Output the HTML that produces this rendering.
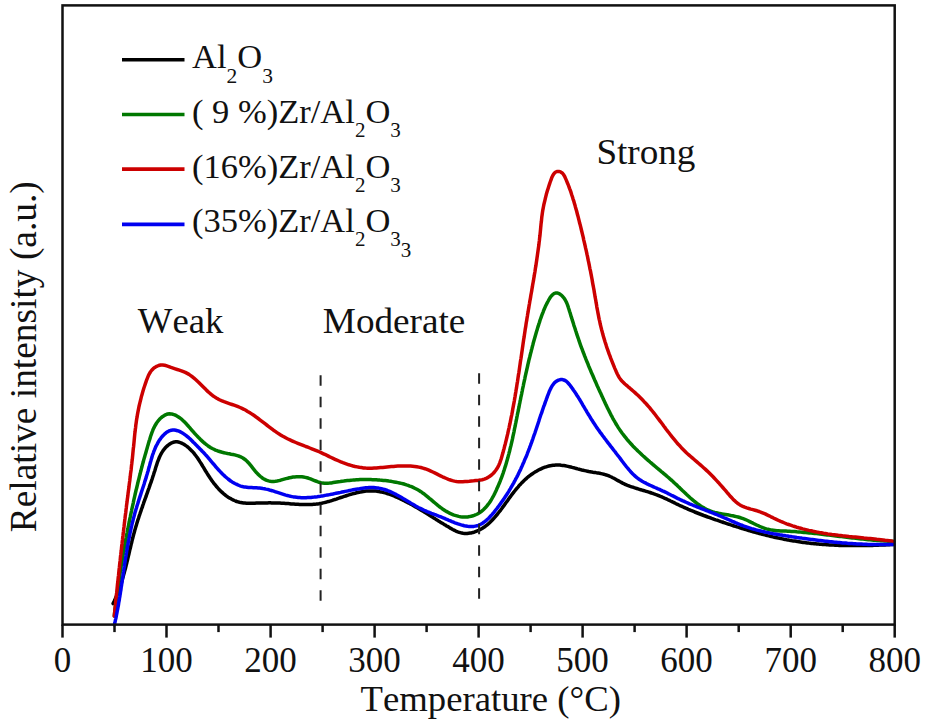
<!DOCTYPE html>
<html><head><meta charset="utf-8"><style>
html,body{margin:0;padding:0;background:#fff;}
svg{display:block;}
text{font-family:"Liberation Serif",serif;fill:#111;}
</style></head><body>
<svg width="925" height="722" viewBox="0 0 925 722">
<rect width="925" height="722" fill="#fff"/>
<g fill="none" stroke-linejoin="round" stroke-linecap="round" stroke-width="3.5">
<path stroke="#000" d="M113.1 603.6L113.7 602.3L114.3 601.1L114.9 599.8L115.4 598.5L116.0 597.3L116.5 596.0L117.1 594.7L117.6 593.4L118.1 592.1L118.6 590.8L119.0 589.5L119.5 588.2L120.0 586.9L120.4 585.6L120.8 584.2L121.3 582.9L121.7 581.6L122.1 580.3L122.5 578.9L122.9 577.6L123.3 576.2L123.6 574.9L124.0 573.6L124.4 572.2L124.7 570.9L125.1 569.5L125.5 568.2L125.8 566.8L126.1 565.5L126.5 564.1L126.8 562.8L127.1 561.4L127.5 560.0L127.8 558.7L128.1 557.3L128.4 556.0L128.8 554.6L129.1 553.2L129.4 551.9L129.7 550.5L130.0 549.2L130.4 547.8L130.7 546.4L131.0 545.1L131.3 543.7L131.7 542.4L132.0 541.0L132.3 539.7L132.7 538.3L133.0 537.0L133.4 535.6L133.7 534.3L134.1 532.9L134.5 531.6L134.8 530.2L135.2 528.9L135.6 527.6L136.0 526.2L136.4 524.9L136.8 523.6L137.2 522.2L137.6 520.9L138.0 519.6L138.5 518.3L138.9 517.0L139.3 515.6L139.8 514.3L140.2 513.0L140.7 511.7L141.1 510.4L141.5 509.1L142.0 507.8L142.5 506.5L142.9 505.1L143.4 503.8L143.8 502.5L144.3 501.2L144.8 499.9L145.2 498.6L145.7 497.3L146.2 496.0L146.6 494.7L147.1 493.3L147.6 492.0L148.0 490.7L148.5 489.4L149.0 488.1L149.4 486.8L149.9 485.4L150.3 484.1L150.8 482.8L151.3 481.5L151.7 480.2L152.2 478.8L152.6 477.5L153.0 476.2L153.5 474.8L153.9 473.5L154.3 472.1L154.8 470.8L155.2 469.4L155.6 468.1L156.0 466.7L156.5 465.4L156.9 464.1L157.3 462.7L157.8 461.4L158.3 460.1L158.8 458.8L159.3 457.5L159.9 456.2L160.5 455.0L161.1 453.8L161.8 452.6L162.6 451.4L163.3 450.3L164.2 449.2L165.1 448.1L166.1 447.1L167.1 446.1L168.2 445.1L169.4 444.3L170.6 443.5L171.8 442.8L173.1 442.3L174.4 442.0L175.7 441.8L177.0 441.8L178.3 442.0L179.6 442.4L180.9 442.8L182.2 443.4L183.4 444.1L184.6 444.8L185.8 445.6L187.0 446.4L188.1 447.3L189.1 448.2L190.1 449.2L191.1 450.2L192.1 451.2L193.0 452.2L194.0 453.3L194.8 454.4L195.7 455.5L196.6 456.7L197.4 457.8L198.2 459.0L199.0 460.2L199.7 461.4L200.5 462.6L201.3 463.8L202.0 465.0L202.7 466.2L203.5 467.4L204.2 468.6L204.9 469.8L205.6 471.0L206.4 472.2L207.1 473.4L207.8 474.5L208.6 475.7L209.3 476.8L210.1 478.0L210.9 479.1L211.6 480.2L212.4 481.4L213.3 482.5L214.1 483.6L215.0 484.7L215.8 485.7L216.7 486.8L217.7 487.9L218.6 488.9L219.6 489.9L220.6 490.9L221.6 491.9L222.7 492.9L223.7 493.8L224.8 494.7L225.9 495.6L227.0 496.4L228.2 497.2L229.4 497.9L230.6 498.6L231.8 499.3L233.0 499.9L234.3 500.5L235.5 501.0L236.8 501.5L238.1 501.9L239.5 502.3L240.8 502.6L242.2 502.8L243.6 503.0L245.0 503.1L246.4 503.2L247.8 503.3L249.2 503.3L250.6 503.3L252.1 503.3L253.5 503.2L254.9 503.2L256.3 503.1L257.7 503.1L259.2 503.0L260.6 503.0L261.9 502.9L263.3 502.9L264.7 502.9L266.1 502.9L267.5 502.9L268.9 502.8L270.2 502.8L271.6 502.9L273.0 502.9L274.4 502.9L275.7 502.9L277.1 503.0L278.5 503.0L279.9 503.1L281.3 503.2L282.7 503.3L284.1 503.3L285.5 503.4L286.9 503.5L288.3 503.6L289.7 503.7L291.1 503.9L292.5 504.0L293.9 504.1L295.3 504.2L296.7 504.2L298.1 504.3L299.6 504.4L301.0 504.5L302.4 504.5L303.8 504.6L305.2 504.6L306.6 504.6L308.0 504.6L309.4 504.5L310.8 504.5L312.2 504.4L313.5 504.3L314.9 504.2L316.3 504.1L317.6 503.9L319.0 503.7L320.3 503.4L321.7 503.2L323.0 502.9L324.4 502.6L325.7 502.3L327.0 501.9L328.4 501.5L329.7 501.2L331.0 500.8L332.3 500.4L333.6 499.9L335.0 499.5L336.3 499.1L337.6 498.6L338.9 498.2L340.2 497.7L341.6 497.3L342.9 496.8L344.2 496.4L345.6 496.0L346.9 495.5L348.3 495.1L349.6 494.7L351.0 494.3L352.4 493.9L353.7 493.5L355.1 493.2L356.5 492.8L357.8 492.5L359.2 492.2L360.6 491.9L362.0 491.7L363.4 491.5L364.8 491.3L366.1 491.1L367.5 491.0L368.9 490.9L370.3 490.9L371.7 490.9L373.0 490.9L374.4 491.0L375.8 491.1L377.1 491.2L378.5 491.4L379.9 491.7L381.2 491.9L382.6 492.2L383.9 492.6L385.2 492.9L386.6 493.3L387.9 493.8L389.2 494.2L390.6 494.7L391.9 495.2L393.2 495.7L394.5 496.2L395.8 496.8L397.1 497.3L398.3 497.9L399.6 498.5L400.9 499.1L402.1 499.7L403.4 500.3L404.6 500.9L405.9 501.6L407.1 502.2L408.3 502.9L409.6 503.5L410.8 504.2L412.0 504.8L413.2 505.5L414.4 506.2L415.6 506.9L416.8 507.6L418.0 508.3L419.2 509.0L420.4 509.7L421.6 510.4L422.7 511.1L423.9 511.8L425.1 512.6L426.3 513.3L427.5 514.0L428.7 514.7L429.8 515.5L431.0 516.2L432.2 516.9L433.4 517.7L434.6 518.4L435.7 519.2L436.9 519.9L438.1 520.7L439.3 521.4L440.5 522.2L441.7 522.9L442.9 523.6L444.1 524.4L445.3 525.1L446.6 525.9L447.8 526.6L449.0 527.3L450.2 528.1L451.5 528.8L452.7 529.5L454.0 530.1L455.3 530.8L456.5 531.4L457.8 531.9L459.1 532.3L460.4 532.7L461.8 533.1L463.1 533.3L464.5 533.4L465.9 533.5L467.2 533.5L468.6 533.3L470.0 533.1L471.4 532.9L472.8 532.5L474.1 532.2L475.4 531.7L476.7 531.2L478.0 530.7L479.2 530.1L480.4 529.4L481.6 528.8L482.8 528.0L483.9 527.3L485.0 526.5L486.1 525.7L487.2 524.8L488.3 523.9L489.3 523.0L490.3 522.0L491.3 521.0L492.3 520.0L493.2 519.0L494.2 518.0L495.1 516.9L496.0 515.8L497.0 514.7L497.8 513.6L498.7 512.5L499.6 511.4L500.5 510.3L501.3 509.1L502.2 508.0L503.0 506.8L503.9 505.7L504.7 504.5L505.5 503.4L506.3 502.2L507.2 501.1L508.0 500.0L508.8 498.8L509.6 497.7L510.5 496.6L511.3 495.4L512.1 494.3L513.0 493.2L513.8 492.1L514.7 491.0L515.6 489.9L516.4 488.9L517.3 487.8L518.2 486.8L519.1 485.7L520.0 484.7L521.0 483.7L521.9 482.7L522.9 481.7L523.9 480.7L524.9 479.8L525.9 478.9L526.9 477.9L528.0 477.0L529.1 476.2L530.2 475.3L531.3 474.5L532.5 473.7L533.7 472.9L534.9 472.1L536.1 471.4L537.3 470.7L538.5 470.0L539.8 469.4L541.1 468.8L542.4 468.2L543.7 467.7L545.0 467.2L546.3 466.8L547.6 466.4L548.9 466.0L550.3 465.7L551.6 465.5L553.0 465.3L554.3 465.2L555.7 465.1L557.1 465.0L558.4 465.1L559.8 465.1L561.2 465.3L562.5 465.4L563.9 465.6L565.3 465.8L566.7 466.1L568.0 466.4L569.4 466.7L570.8 467.0L572.2 467.4L573.6 467.7L574.9 468.1L576.3 468.5L577.7 468.9L579.1 469.2L580.5 469.6L581.8 470.0L583.2 470.3L584.6 470.6L586.0 470.9L587.4 471.2L588.8 471.5L590.1 471.7L591.5 471.9L592.9 472.2L594.3 472.4L595.6 472.6L597.0 472.9L598.3 473.1L599.7 473.3L601.0 473.6L602.4 473.9L603.7 474.2L605.0 474.6L606.3 475.0L607.6 475.4L608.9 475.9L610.2 476.5L611.4 477.0L612.7 477.7L613.9 478.3L615.2 479.0L616.4 479.7L617.6 480.4L618.9 481.1L620.1 481.8L621.3 482.4L622.6 483.1L623.8 483.7L625.1 484.3L626.4 484.9L627.6 485.4L628.9 485.9L630.2 486.4L631.5 486.8L632.8 487.2L634.2 487.7L635.5 488.1L636.8 488.5L638.1 488.9L639.4 489.3L640.8 489.7L642.1 490.1L643.4 490.5L644.8 490.9L646.1 491.3L647.4 491.7L648.8 492.1L650.1 492.5L651.4 493.0L652.7 493.4L654.0 493.9L655.4 494.4L656.7 494.8L658.0 495.3L659.3 495.9L660.5 496.4L661.8 496.9L663.1 497.5L664.4 498.1L665.6 498.6L666.9 499.2L668.1 499.8L669.4 500.4L670.6 501.0L671.9 501.6L673.1 502.2L674.4 502.8L675.7 503.5L676.9 504.1L678.2 504.7L679.4 505.3L680.7 505.9L681.9 506.4L683.2 507.0L684.5 507.6L685.8 508.2L687.0 508.7L688.3 509.3L689.6 509.8L690.9 510.4L692.2 510.9L693.5 511.4L694.7 512.0L696.0 512.5L697.3 513.0L698.6 513.5L699.9 514.0L701.2 514.5L702.5 515.0L703.8 515.5L705.2 516.0L706.5 516.5L707.8 517.0L709.1 517.4L710.4 517.9L711.7 518.4L713.0 518.8L714.3 519.3L715.7 519.8L717.0 520.2L718.3 520.7L719.6 521.1L720.9 521.6L722.3 522.0L723.6 522.5L724.9 522.9L726.2 523.4L727.5 523.8L728.9 524.2L730.2 524.7L731.5 525.1L732.8 525.5L734.1 526.0L735.5 526.4L736.8 526.8L738.1 527.2L739.4 527.6L740.7 528.1L742.1 528.5L743.4 528.9L744.7 529.3L746.0 529.7L747.4 530.1L748.7 530.5L750.0 530.9L751.4 531.3L752.7 531.7L754.0 532.0L755.4 532.4L756.7 532.8L758.0 533.1L759.4 533.5L760.7 533.9L762.1 534.2L763.4 534.6L764.8 534.9L766.1 535.2L767.5 535.6L768.8 535.9L770.2 536.2L771.5 536.5L772.9 536.9L774.3 537.2L775.6 537.5L777.0 537.8L778.4 538.1L779.7 538.3L781.1 538.6L782.5 538.9L783.9 539.2L785.2 539.4L786.6 539.7L788.0 539.9L789.4 540.2L790.7 540.4L792.1 540.7L793.5 540.9L794.9 541.1L796.3 541.3L797.6 541.6L799.0 541.8L800.4 542.0L801.8 542.2L803.2 542.4L804.6 542.5L805.9 542.7L807.3 542.9L808.7 543.1L810.1 543.2L811.5 543.4L812.9 543.5L814.3 543.7L815.6 543.8L817.0 544.0L818.4 544.1L819.8 544.2L821.2 544.3L822.6 544.4L824.0 544.5L825.3 544.6L826.7 544.7L828.1 544.8L829.5 544.9L830.9 545.0L832.3 545.1L833.7 545.1L835.0 545.2L836.4 545.3L837.8 545.3L839.2 545.4L840.6 545.4L842.0 545.4L843.4 545.5L844.7 545.5L846.1 545.5L847.5 545.6L848.9 545.6L850.3 545.6L851.7 545.6L853.1 545.6L854.5 545.6L855.8 545.6L857.2 545.6L858.6 545.6L860.0 545.6L861.4 545.6L862.8 545.6L864.2 545.5L865.6 545.5L867.0 545.5L868.4 545.5L869.7 545.4L871.1 545.4L872.5 545.4L873.9 545.3L875.3 545.3L876.7 545.2L878.1 545.2L879.5 545.1L880.9 545.1L882.3 545.0L883.7 545.0L885.1 544.9L886.5 544.8L887.9 544.8L889.3 544.7L890.7 544.6L892.1 544.6L893.5 544.5"/>
<path stroke="#007800" d="M114.3 616.0L114.5 614.2L114.7 612.4L114.9 610.6L115.1 608.9L115.4 607.1L115.6 605.3L115.8 603.5L116.0 601.7L116.3 599.9L116.5 598.1L116.7 596.4L117.0 594.6L117.2 592.8L117.5 591.0L117.7 589.2L118.0 587.4L118.2 585.7L118.5 583.9L118.7 582.1L119.0 580.3L119.3 578.5L119.5 576.7L119.8 574.9L120.1 573.2L120.4 571.4L120.6 569.6L120.9 567.8L121.2 566.0L121.5 564.3L121.8 562.5L122.1 560.7L122.4 558.9L122.7 557.1L123.0 555.4L123.3 553.6L123.6 551.8L123.9 550.0L124.2 548.2L124.5 546.5L124.9 544.7L125.2 542.9L125.5 541.1L125.8 539.4L126.2 537.6L126.5 535.8L126.8 534.1L127.2 532.3L127.5 530.5L127.9 528.7L128.2 527.0L128.6 525.2L128.9 523.4L129.3 521.7L129.6 519.9L130.0 518.1L130.4 516.4L130.7 514.6L131.1 512.9L131.5 511.1L131.8 509.3L132.2 507.6L132.6 505.8L133.0 504.1L133.4 502.3L133.7 500.6L134.1 498.8L134.5 497.1L134.9 495.3L135.3 493.5L135.7 491.8L136.1 490.0L136.6 488.3L137.0 486.5L137.4 484.8L137.8 483.0L138.2 481.3L138.7 479.6L139.1 477.8L139.5 476.1L140.0 474.3L140.4 472.6L140.9 470.8L141.3 469.1L141.8 467.3L142.2 465.6L142.7 463.8L143.2 462.1L143.6 460.4L144.1 458.6L144.6 456.9L145.1 455.1L145.6 453.4L146.1 451.7L146.6 449.9L147.1 448.2L147.6 446.4L148.1 444.7L148.6 442.9L149.1 441.2L149.7 439.5L150.2 437.7L150.7 436.0L151.3 434.3L151.9 432.6L152.6 430.9L153.2 429.2L154.0 427.6L154.8 426.0L155.7 424.5L156.6 423.0L157.7 421.5L158.8 420.1L160.0 418.8L161.4 417.5L162.8 416.4L164.4 415.4L166.0 414.6L167.6 414.0L169.4 413.8L171.2 413.9L172.9 414.3L174.7 414.9L176.4 415.7L178.1 416.7L179.6 417.7L181.1 418.8L182.4 420.0L183.7 421.2L185.0 422.4L186.2 423.7L187.3 425.0L188.5 426.3L189.7 427.7L190.9 429.1L192.1 430.5L193.3 431.8L194.5 433.2L195.8 434.6L197.0 435.9L198.3 437.3L199.6 438.6L200.9 439.9L202.2 441.1L203.6 442.4L205.0 443.5L206.4 444.7L207.8 445.7L209.3 446.7L210.8 447.7L212.3 448.5L213.9 449.3L215.5 450.1L217.1 450.7L218.7 451.3L220.4 451.8L222.2 452.3L223.9 452.7L225.7 453.1L227.5 453.5L229.3 453.8L231.1 454.2L232.9 454.5L234.7 454.9L236.4 455.4L238.2 455.9L239.8 456.5L241.4 457.2L242.9 458.0L244.3 459.0L245.7 460.0L247.0 461.2L248.2 462.5L249.4 463.8L250.5 465.2L251.7 466.7L252.8 468.1L254.0 469.6L255.2 471.1L256.4 472.5L257.7 473.9L259.1 475.2L260.5 476.5L262.0 477.7L263.5 478.7L265.2 479.6L266.8 480.4L268.5 480.9L270.2 481.3L271.9 481.5L273.7 481.5L275.4 481.3L277.1 481.0L278.9 480.6L280.6 480.2L282.4 479.6L284.2 479.1L285.9 478.6L287.7 478.2L289.4 477.7L291.2 477.4L293.0 477.1L294.7 476.9L296.5 476.8L298.3 476.7L300.0 476.7L301.8 476.8L303.5 477.0L305.3 477.4L307.0 477.8L308.7 478.3L310.5 478.9L312.2 479.6L313.9 480.3L315.7 481.0L317.4 481.7L319.1 482.3L320.9 482.8L322.6 483.1L324.4 483.3L326.1 483.3L327.9 483.2L329.6 483.1L331.4 482.9L333.2 482.6L334.9 482.3L336.7 482.0L338.5 481.7L340.3 481.5L342.1 481.2L343.8 481.0L345.6 480.7L347.4 480.5L349.2 480.4L351.0 480.2L352.8 480.1L354.6 479.9L356.4 479.8L358.2 479.7L360.0 479.6L361.8 479.6L363.6 479.6L365.4 479.5L367.2 479.5L369.0 479.6L370.8 479.6L372.6 479.7L374.4 479.7L376.2 479.8L378.0 479.9L379.8 480.1L381.6 480.2L383.5 480.4L385.3 480.6L387.1 480.8L388.9 481.1L390.7 481.3L392.4 481.6L394.2 481.9L396.0 482.2L397.8 482.6L399.5 483.0L401.3 483.4L403.0 483.8L404.8 484.3L406.5 484.9L408.1 485.4L409.8 486.1L411.5 486.7L413.1 487.4L414.7 488.2L416.3 489.0L417.8 489.8L419.4 490.7L420.9 491.7L422.3 492.7L423.8 493.7L425.2 494.8L426.6 496.0L428.0 497.1L429.4 498.3L430.8 499.4L432.2 500.6L433.6 501.8L435.0 503.0L436.4 504.2L437.8 505.3L439.2 506.5L440.7 507.6L442.2 508.7L443.7 509.7L445.2 510.7L446.8 511.6L448.4 512.5L450.0 513.4L451.7 514.1L453.4 514.8L455.1 515.4L456.9 515.9L458.7 516.4L460.4 516.7L462.3 516.9L464.1 517.0L465.9 517.0L467.7 516.9L469.5 516.6L471.3 516.2L473.0 515.8L474.7 515.2L476.3 514.5L477.9 513.7L479.4 512.8L480.9 511.8L482.3 510.7L483.6 509.5L484.8 508.3L486.1 507.0L487.2 505.6L488.3 504.2L489.4 502.7L490.4 501.2L491.4 499.6L492.3 498.0L493.2 496.4L494.1 494.7L494.9 493.1L495.7 491.4L496.5 489.7L497.2 488.0L498.0 486.4L498.7 484.7L499.4 483.0L500.1 481.4L500.7 479.7L501.4 478.0L502.0 476.3L502.6 474.7L503.2 473.0L503.7 471.3L504.3 469.6L504.8 467.9L505.4 466.2L505.9 464.5L506.4 462.8L506.9 461.1L507.4 459.3L507.9 457.6L508.3 455.9L508.8 454.1L509.2 452.4L509.7 450.7L510.1 448.9L510.5 447.2L511.0 445.4L511.4 443.6L511.8 441.9L512.2 440.1L512.6 438.4L512.9 436.6L513.3 434.8L513.7 433.1L514.1 431.3L514.4 429.5L514.8 427.7L515.2 426.0L515.5 424.2L515.9 422.4L516.2 420.6L516.6 418.9L516.9 417.1L517.3 415.3L517.6 413.6L518.0 411.8L518.4 410.0L518.7 408.3L519.1 406.5L519.4 404.7L519.8 402.9L520.1 401.2L520.5 399.4L520.8 397.7L521.2 395.9L521.6 394.1L521.9 392.4L522.3 390.6L522.6 388.8L523.0 387.1L523.4 385.3L523.7 383.6L524.1 381.8L524.5 380.0L524.9 378.3L525.2 376.5L525.6 374.8L526.0 373.0L526.4 371.3L526.8 369.5L527.2 367.8L527.6 366.0L528.0 364.2L528.4 362.5L528.8 360.7L529.2 359.0L529.7 357.2L530.1 355.5L530.5 353.8L531.0 352.0L531.4 350.3L531.9 348.5L532.3 346.8L532.8 345.0L533.2 343.3L533.7 341.5L534.2 339.8L534.7 338.1L535.2 336.3L535.7 334.6L536.2 332.8L536.7 331.1L537.2 329.4L537.7 327.6L538.3 325.9L538.8 324.2L539.4 322.5L539.9 320.7L540.5 319.0L541.1 317.3L541.7 315.6L542.3 314.0L543.0 312.3L543.6 310.7L544.3 309.0L545.0 307.4L545.7 305.8L546.5 304.2L547.3 302.6L548.2 301.0L549.1 299.3L550.1 297.6L551.3 296.0L552.6 294.7L554.0 293.7L555.5 293.0L557.1 293.0L558.7 293.4L560.2 294.3L561.6 295.4L562.9 296.8L564.1 298.2L565.1 299.7L565.9 301.3L566.7 302.9L567.4 304.6L568.0 306.3L568.5 308.0L569.1 309.8L569.6 311.5L570.2 313.2L570.7 315.0L571.2 316.7L571.8 318.4L572.3 320.2L572.9 321.9L573.4 323.6L573.9 325.3L574.5 327.0L575.1 328.8L575.6 330.5L576.2 332.2L576.7 333.9L577.3 335.6L577.9 337.3L578.5 339.0L579.0 340.7L579.6 342.4L580.2 344.1L580.8 345.8L581.4 347.5L582.1 349.1L582.7 350.8L583.3 352.5L584.0 354.2L584.6 355.9L585.3 357.5L585.9 359.2L586.6 360.9L587.3 362.5L588.0 364.2L588.6 365.9L589.3 367.5L590.0 369.2L590.7 370.8L591.4 372.5L592.2 374.2L592.9 375.8L593.6 377.5L594.3 379.1L595.0 380.8L595.8 382.4L596.5 384.1L597.2 385.7L598.0 387.4L598.7 389.0L599.5 390.7L600.2 392.3L601.0 393.9L601.7 395.6L602.5 397.2L603.2 398.9L604.0 400.5L604.8 402.2L605.5 403.8L606.3 405.4L607.1 407.1L607.9 408.7L608.7 410.3L609.5 411.9L610.3 413.5L611.1 415.1L612.0 416.7L612.8 418.3L613.7 419.9L614.6 421.4L615.5 423.0L616.4 424.5L617.4 426.1L618.3 427.6L619.3 429.1L620.3 430.6L621.3 432.0L622.4 433.5L623.5 434.9L624.6 436.3L625.7 437.7L626.8 439.1L628.0 440.5L629.2 441.9L630.4 443.2L631.6 444.5L632.8 445.9L634.1 447.2L635.4 448.5L636.7 449.7L637.9 451.0L639.3 452.3L640.6 453.5L641.9 454.8L643.2 456.0L644.6 457.2L645.9 458.4L647.3 459.6L648.7 460.8L650.0 462.0L651.4 463.2L652.8 464.4L654.2 465.5L655.5 466.7L656.9 467.8L658.3 469.0L659.7 470.1L661.0 471.3L662.4 472.4L663.8 473.6L665.1 474.7L666.5 475.9L667.8 477.0L669.2 478.2L670.5 479.4L671.9 480.5L673.2 481.7L674.5 483.0L675.8 484.2L677.2 485.4L678.5 486.7L679.8 487.9L681.1 489.2L682.4 490.5L683.8 491.8L685.1 493.0L686.4 494.3L687.7 495.5L689.1 496.8L690.4 498.0L691.8 499.2L693.2 500.3L694.6 501.5L696.0 502.6L697.4 503.7L698.9 504.7L700.3 505.7L701.8 506.7L703.4 507.6L704.9 508.5L706.5 509.3L708.1 510.0L709.7 510.7L711.3 511.3L713.0 511.9L714.8 512.4L716.5 512.8L718.3 513.2L720.1 513.6L721.9 513.9L723.7 514.2L725.5 514.5L727.3 514.8L729.1 515.1L731.0 515.5L732.8 515.8L734.6 516.2L736.3 516.6L738.1 517.0L739.8 517.5L741.5 518.1L743.2 518.7L744.9 519.3L746.5 520.0L748.1 520.8L749.7 521.6L751.3 522.4L753.0 523.2L754.6 524.0L756.2 524.8L757.9 525.5L759.5 526.3L761.2 527.0L762.9 527.7L764.6 528.3L766.3 528.9L768.0 529.3L769.8 529.7L771.5 530.1L773.3 530.3L775.1 530.5L776.9 530.7L778.6 530.8L780.5 530.9L782.3 531.0L784.1 531.0L785.9 531.1L787.7 531.2L789.5 531.3L791.3 531.4L793.1 531.5L794.9 531.6L796.7 531.8L798.5 531.9L800.3 532.1L802.1 532.2L803.9 532.4L805.7 532.5L807.5 532.7L809.3 532.9L811.0 533.1L812.8 533.2L814.6 533.4L816.4 533.6L818.2 533.8L820.0 534.0L821.8 534.2L823.6 534.4L825.4 534.7L827.2 534.9L828.9 535.1L830.7 535.3L832.5 535.5L834.3 535.7L836.1 536.0L837.9 536.2L839.7 536.4L841.5 536.6L843.2 536.8L845.0 537.1L846.8 537.3L848.6 537.5L850.4 537.7L852.2 537.9L854.0 538.1L855.8 538.3L857.6 538.5L859.3 538.7L861.1 538.9L862.9 539.1L864.7 539.3L866.5 539.5L868.3 539.7L870.1 539.8L871.9 540.0L873.7 540.2L875.5 540.3L877.3 540.5L879.1 540.6L880.9 540.7L882.7 540.8L884.5 541.0L886.3 541.1L888.1 541.2L889.9 541.3L891.7 541.3L893.5 541.4"/>
<path stroke="#cc0000" d="M114.3 616.0L114.5 613.9L114.7 611.8L114.9 609.6L115.1 607.5L115.4 605.4L115.6 603.3L115.8 601.2L116.0 599.0L116.2 596.9L116.4 594.8L116.7 592.7L116.9 590.6L117.1 588.4L117.3 586.3L117.5 584.2L117.8 582.1L118.0 580.0L118.2 577.8L118.5 575.7L118.7 573.6L118.9 571.5L119.1 569.4L119.4 567.2L119.6 565.1L119.8 563.0L120.1 560.9L120.3 558.8L120.5 556.6L120.8 554.5L121.0 552.4L121.3 550.3L121.5 548.2L121.7 546.0L122.0 543.9L122.2 541.8L122.5 539.7L122.7 537.6L123.0 535.5L123.2 533.3L123.5 531.2L123.7 529.1L124.0 527.0L124.2 524.9L124.5 522.8L124.7 520.6L125.0 518.5L125.2 516.4L125.5 514.3L125.8 512.2L126.0 510.1L126.3 507.9L126.5 505.8L126.8 503.7L127.1 501.6L127.3 499.5L127.6 497.4L127.9 495.3L128.1 493.2L128.4 491.0L128.7 488.9L129.0 486.8L129.2 484.7L129.5 482.6L129.8 480.5L130.0 478.4L130.3 476.3L130.5 474.1L130.8 472.0L131.1 469.9L131.3 467.8L131.5 465.7L131.8 463.5L132.0 461.4L132.3 459.3L132.5 457.2L132.7 455.1L132.9 452.9L133.1 450.8L133.3 448.7L133.6 446.5L133.8 444.4L134.0 442.3L134.2 440.1L134.4 438.0L134.6 435.9L134.8 433.8L135.1 431.6L135.3 429.5L135.6 427.4L135.8 425.3L136.1 423.2L136.4 421.1L136.7 419.0L137.1 416.9L137.4 414.8L137.8 412.7L138.2 410.6L138.6 408.6L139.0 406.5L139.5 404.4L140.0 402.4L140.5 400.3L141.0 398.3L141.5 396.2L142.1 394.2L142.7 392.1L143.3 390.1L143.9 388.0L144.6 386.0L145.3 383.9L146.0 381.9L146.7 379.8L147.5 377.8L148.3 375.8L149.3 373.9L150.4 372.0L151.7 370.3L153.2 368.7L154.8 367.4L156.7 366.3L158.6 365.5L160.6 365.0L162.6 365.0L164.7 365.3L166.8 365.9L168.9 366.6L171.0 367.4L173.1 368.1L175.2 368.8L177.3 369.5L179.3 370.1L181.4 370.8L183.4 371.6L185.3 372.4L187.2 373.4L189.0 374.4L190.7 375.6L192.4 376.8L194.0 378.1L195.6 379.5L197.2 381.0L198.8 382.5L200.3 384.0L201.8 385.5L203.3 387.0L204.9 388.6L206.4 390.1L208.0 391.6L209.6 393.0L211.2 394.4L212.8 395.7L214.6 396.9L216.3 398.0L218.2 399.1L220.0 400.0L222.0 400.9L224.0 401.7L226.0 402.4L228.0 403.1L230.0 403.8L232.1 404.5L234.1 405.2L236.1 405.9L238.1 406.7L240.1 407.5L242.0 408.4L243.9 409.3L245.8 410.3L247.6 411.4L249.5 412.5L251.2 413.6L253.0 414.8L254.8 416.0L256.5 417.3L258.2 418.5L259.9 419.8L261.6 421.1L263.3 422.4L265.0 423.7L266.7 425.0L268.4 426.3L270.1 427.6L271.8 428.9L273.5 430.2L275.3 431.4L277.0 432.6L278.8 433.8L280.6 434.9L282.4 436.0L284.3 437.0L286.1 438.0L288.0 439.0L290.0 439.9L291.9 440.8L293.8 441.7L295.8 442.5L297.8 443.3L299.8 444.1L301.8 444.9L303.8 445.7L305.8 446.5L307.8 447.2L309.8 448.0L311.8 448.8L313.8 449.6L315.7 450.4L317.7 451.2L319.7 452.0L321.6 452.9L323.5 453.8L325.5 454.7L327.4 455.6L329.3 456.6L331.2 457.5L333.1 458.4L335.0 459.3L337.0 460.2L338.9 461.0L340.9 461.9L342.9 462.7L344.9 463.4L346.9 464.1L348.9 464.8L351.0 465.4L353.1 466.0L355.1 466.5L357.2 466.9L359.3 467.3L361.4 467.6L363.5 467.9L365.6 468.1L367.7 468.2L369.9 468.2L372.0 468.2L374.1 468.1L376.3 468.0L378.4 467.8L380.6 467.6L382.7 467.4L384.9 467.2L387.0 467.0L389.2 466.8L391.3 466.6L393.5 466.4L395.6 466.2L397.8 466.1L399.9 466.0L402.1 465.9L404.2 465.9L406.3 465.9L408.4 465.9L410.5 466.0L412.6 466.2L414.7 466.4L416.8 466.7L418.8 467.1L420.9 467.5L422.9 468.1L424.9 468.7L426.9 469.4L428.8 470.2L430.8 471.1L432.8 472.0L434.7 472.9L436.7 473.9L438.6 474.9L440.5 475.8L442.5 476.8L444.5 477.7L446.4 478.5L448.4 479.3L450.4 480.0L452.4 480.6L454.4 481.1L456.5 481.5L458.6 481.7L460.7 481.8L462.8 481.8L465.0 481.6L467.2 481.4L469.3 481.2L471.5 480.9L473.7 480.8L475.9 480.6L478.1 480.4L480.2 480.1L482.2 479.7L484.3 479.1L486.2 478.3L488.1 477.4L489.8 476.2L491.5 475.0L493.1 473.5L494.5 472.0L495.8 470.3L497.0 468.6L498.1 466.7L499.0 464.8L499.8 462.9L500.5 460.8L501.2 458.8L501.8 456.7L502.4 454.6L503.0 452.6L503.5 450.5L504.1 448.4L504.6 446.3L505.2 444.2L505.7 442.2L506.2 440.1L506.7 438.0L507.2 435.9L507.7 433.9L508.1 431.8L508.6 429.7L509.1 427.6L509.5 425.5L510.0 423.5L510.4 421.4L510.8 419.3L511.2 417.2L511.7 415.1L512.1 413.0L512.5 410.9L512.8 408.8L513.2 406.8L513.6 404.7L514.0 402.6L514.4 400.5L514.7 398.4L515.1 396.3L515.4 394.2L515.8 392.1L516.1 390.0L516.5 387.9L516.8 385.8L517.1 383.7L517.5 381.6L517.8 379.4L518.1 377.3L518.4 375.2L518.8 373.1L519.1 371.0L519.4 368.9L519.7 366.8L520.0 364.7L520.3 362.6L520.6 360.5L521.0 358.3L521.3 356.2L521.6 354.1L521.9 352.0L522.2 349.9L522.5 347.8L522.8 345.7L523.1 343.6L523.4 341.5L523.7 339.3L524.1 337.2L524.4 335.1L524.7 333.0L525.0 330.9L525.3 328.8L525.7 326.7L526.0 324.6L526.3 322.5L526.7 320.4L527.0 318.3L527.4 316.1L527.7 314.0L528.1 311.9L528.4 309.8L528.8 307.7L529.1 305.6L529.5 303.5L529.8 301.4L530.2 299.3L530.6 297.2L530.9 295.1L531.3 293.0L531.7 290.9L532.0 288.8L532.4 286.7L532.7 284.6L533.1 282.5L533.5 280.4L533.8 278.3L534.2 276.2L534.5 274.1L534.9 272.0L535.2 269.9L535.5 267.8L535.9 265.7L536.2 263.6L536.5 261.5L536.8 259.4L537.1 257.3L537.4 255.2L537.7 253.1L538.0 250.9L538.3 248.8L538.6 246.7L538.9 244.6L539.1 242.5L539.4 240.4L539.6 238.3L539.9 236.1L540.1 234.0L540.3 231.9L540.5 229.8L540.7 227.7L540.9 225.5L541.1 223.4L541.4 221.3L541.6 219.2L541.8 217.1L542.1 214.9L542.4 212.8L542.7 210.7L543.1 208.6L543.5 206.5L543.9 204.4L544.4 202.3L544.9 200.3L545.4 198.2L545.9 196.2L546.4 194.1L547.0 192.1L547.6 190.1L548.2 188.2L548.8 186.2L549.5 184.1L550.2 182.0L551.0 179.8L551.8 177.6L552.8 175.5L553.9 173.7L555.3 172.3L556.9 171.5L558.8 171.4L560.6 171.9L562.2 172.9L563.5 174.5L564.6 176.3L565.5 178.4L566.4 180.4L567.2 182.5L568.1 184.5L568.9 186.6L569.6 188.6L570.4 190.7L571.1 192.7L571.7 194.7L572.4 196.8L573.0 198.8L573.7 200.8L574.3 202.9L574.9 204.9L575.4 206.9L576.0 209.0L576.6 211.0L577.1 213.0L577.6 215.1L578.2 217.1L578.7 219.2L579.2 221.2L579.7 223.3L580.3 225.3L580.8 227.4L581.3 229.5L581.8 231.5L582.3 233.6L582.8 235.7L583.3 237.7L583.7 239.8L584.2 241.9L584.7 244.0L585.2 246.1L585.6 248.2L586.1 250.2L586.6 252.3L587.0 254.4L587.5 256.5L587.9 258.6L588.3 260.7L588.8 262.8L589.2 264.9L589.6 267.0L590.0 269.1L590.5 271.2L590.9 273.3L591.3 275.4L591.7 277.5L592.1 279.6L592.4 281.7L592.8 283.8L593.2 285.9L593.6 288.0L594.0 290.1L594.3 292.2L594.7 294.3L595.0 296.4L595.4 298.5L595.8 300.6L596.1 302.7L596.5 304.7L596.8 306.8L597.2 308.9L597.6 311.0L598.0 313.1L598.4 315.2L598.8 317.3L599.2 319.3L599.7 321.4L600.1 323.5L600.6 325.6L601.1 327.6L601.6 329.7L602.2 331.8L602.7 333.8L603.3 335.9L603.9 338.0L604.5 340.0L605.1 342.0L605.8 344.1L606.4 346.1L607.1 348.2L607.8 350.2L608.5 352.2L609.2 354.2L610.0 356.2L610.7 358.2L611.5 360.2L612.3 362.2L613.1 364.2L613.9 366.2L614.7 368.1L615.6 370.1L616.4 372.0L617.3 374.0L618.3 375.8L619.3 377.6L620.5 379.4L621.9 381.0L623.4 382.5L624.9 384.0L626.6 385.4L628.2 386.8L629.9 388.2L631.5 389.6L633.1 391.0L634.7 392.4L636.3 393.9L637.9 395.3L639.4 396.8L640.9 398.3L642.4 399.8L643.9 401.4L645.4 402.9L646.8 404.5L648.2 406.1L649.6 407.7L650.9 409.3L652.3 411.0L653.6 412.6L654.9 414.3L656.2 416.0L657.5 417.7L658.8 419.4L660.1 421.1L661.4 422.8L662.7 424.5L663.9 426.2L665.2 427.9L666.5 429.7L667.8 431.4L669.1 433.0L670.4 434.7L671.7 436.4L673.1 438.1L674.4 439.7L675.8 441.4L677.1 443.0L678.5 444.6L680.0 446.1L681.4 447.7L682.9 449.2L684.4 450.7L685.9 452.2L687.5 453.7L689.1 455.1L690.7 456.5L692.3 457.9L693.9 459.3L695.5 460.7L697.2 462.1L698.8 463.5L700.4 464.9L702.0 466.3L703.6 467.7L705.2 469.1L706.8 470.6L708.3 472.0L709.8 473.5L711.3 475.0L712.8 476.5L714.2 478.0L715.7 479.6L717.1 481.1L718.6 482.7L720.0 484.3L721.4 485.9L722.8 487.5L724.2 489.1L725.6 490.7L727.0 492.4L728.4 494.0L729.8 495.7L731.3 497.3L732.8 498.9L734.3 500.4L735.8 501.8L737.5 503.2L739.2 504.4L740.9 505.5L742.8 506.4L744.7 507.2L746.7 507.9L748.8 508.5L750.8 509.1L752.9 509.6L755.0 510.2L757.1 510.8L759.2 511.5L761.2 512.3L763.2 513.1L765.2 513.9L767.1 514.9L769.1 515.8L771.0 516.8L772.9 517.7L774.8 518.7L776.8 519.6L778.7 520.5L780.7 521.4L782.6 522.2L784.6 523.0L786.6 523.8L788.6 524.5L790.6 525.2L792.6 525.9L794.6 526.5L796.6 527.2L798.7 527.8L800.7 528.3L802.7 528.9L804.8 529.4L806.9 529.9L808.9 530.4L811.0 530.8L813.1 531.3L815.2 531.7L817.2 532.1L819.3 532.5L821.4 532.8L823.5 533.2L825.6 533.5L827.7 533.9L829.9 534.2L832.0 534.5L834.1 534.7L836.2 535.0L838.3 535.3L840.5 535.5L842.6 535.8L844.7 536.0L846.9 536.2L849.0 536.5L851.1 536.7L853.3 536.9L855.4 537.1L857.5 537.3L859.6 537.5L861.8 537.7L863.9 538.0L866.0 538.2L868.2 538.4L870.3 538.6L872.4 538.8L874.5 539.0L876.7 539.3L878.8 539.5L880.9 539.7L883.0 540.0L885.1 540.3L887.2 540.5L889.3 540.8L891.4 541.1L893.5 541.4"/>
<path stroke="#0000f0" d="M114.4 624.8L114.8 623.3L115.1 621.7L115.4 620.2L115.8 618.6L116.1 617.1L116.4 615.5L116.7 613.9L117.0 612.4L117.3 610.8L117.6 609.3L117.9 607.7L118.2 606.1L118.5 604.6L118.7 603.0L119.0 601.4L119.3 599.9L119.5 598.3L119.8 596.7L120.0 595.2L120.3 593.6L120.5 592.0L120.8 590.4L121.0 588.9L121.2 587.3L121.5 585.7L121.7 584.1L122.0 582.6L122.2 581.0L122.4 579.4L122.6 577.8L122.9 576.3L123.1 574.7L123.3 573.1L123.6 571.5L123.8 569.9L124.0 568.4L124.3 566.8L124.5 565.2L124.7 563.6L125.0 562.1L125.2 560.5L125.5 558.9L125.7 557.3L126.0 555.8L126.2 554.2L126.5 552.6L126.7 551.1L127.0 549.5L127.3 547.9L127.5 546.4L127.8 544.8L128.1 543.2L128.4 541.7L128.7 540.1L129.0 538.5L129.3 537.0L129.6 535.4L129.9 533.9L130.2 532.3L130.6 530.8L130.9 529.2L131.2 527.7L131.6 526.1L131.9 524.6L132.3 523.0L132.7 521.5L133.1 519.9L133.5 518.4L133.9 516.9L134.3 515.3L134.7 513.8L135.1 512.3L135.6 510.8L136.0 509.2L136.5 507.7L136.9 506.2L137.4 504.7L137.9 503.2L138.4 501.6L138.8 500.1L139.3 498.6L139.8 497.1L140.3 495.6L140.8 494.1L141.3 492.5L141.8 491.0L142.3 489.5L142.8 488.0L143.3 486.5L143.8 485.0L144.3 483.4L144.7 481.9L145.2 480.4L145.7 478.9L146.2 477.4L146.6 475.8L147.1 474.3L147.5 472.8L148.0 471.2L148.4 469.7L148.8 468.1L149.3 466.6L149.7 465.1L150.1 463.5L150.5 462.0L151.0 460.4L151.4 458.9L151.9 457.4L152.3 455.8L152.8 454.3L153.4 452.8L153.9 451.3L154.5 449.9L155.1 448.4L155.7 446.9L156.4 445.5L157.2 444.1L157.9 442.7L158.7 441.3L159.6 439.9L160.6 438.6L161.5 437.3L162.6 436.0L163.7 434.9L164.8 433.8L166.0 432.8L167.3 431.9L168.6 431.2L169.9 430.6L171.3 430.2L172.8 430.0L174.3 430.0L175.8 430.3L177.4 430.7L178.9 431.2L180.4 431.9L182.0 432.7L183.4 433.6L184.8 434.6L186.2 435.6L187.4 436.6L188.7 437.7L189.9 438.8L191.1 439.9L192.2 441.0L193.3 442.2L194.5 443.3L195.6 444.4L196.7 445.6L197.8 446.7L198.9 447.8L200.0 448.9L201.1 450.0L202.2 451.2L203.3 452.3L204.4 453.4L205.4 454.6L206.5 455.8L207.5 456.9L208.5 458.1L209.6 459.4L210.6 460.6L211.6 461.8L212.6 463.0L213.7 464.2L214.7 465.4L215.7 466.7L216.8 467.9L217.8 469.1L218.9 470.2L220.0 471.4L221.1 472.6L222.2 473.7L223.3 474.8L224.5 475.9L225.7 477.0L226.9 478.0L228.1 479.0L229.4 480.0L230.7 481.0L232.1 481.9L233.5 482.7L234.9 483.5L236.3 484.2L237.8 484.9L239.2 485.5L240.7 486.1L242.3 486.5L243.8 486.9L245.4 487.1L246.9 487.3L248.5 487.5L250.1 487.6L251.7 487.6L253.3 487.7L254.9 487.8L256.5 487.8L258.1 487.9L259.7 488.0L261.2 488.2L262.8 488.5L264.4 488.7L265.9 489.1L267.5 489.4L269.0 489.8L270.5 490.3L272.1 490.7L273.6 491.2L275.1 491.7L276.6 492.1L278.2 492.6L279.7 493.1L281.2 493.6L282.7 494.1L284.2 494.6L285.8 495.1L287.3 495.5L288.8 495.9L290.4 496.3L291.9 496.6L293.5 496.9L295.0 497.1L296.6 497.3L298.2 497.5L299.8 497.6L301.3 497.7L302.9 497.7L304.5 497.7L306.1 497.7L307.7 497.6L309.3 497.5L310.9 497.4L312.5 497.2L314.1 497.1L315.7 496.9L317.3 496.7L318.8 496.4L320.4 496.2L322.0 495.9L323.6 495.7L325.1 495.4L326.7 495.1L328.2 494.9L329.8 494.6L331.3 494.3L332.9 494.0L334.4 493.6L336.0 493.3L337.5 493.0L339.1 492.7L340.6 492.4L342.2 492.0L343.7 491.7L345.3 491.4L346.8 491.1L348.4 490.8L350.0 490.4L351.5 490.1L353.1 489.8L354.7 489.5L356.3 489.2L357.9 488.9L359.5 488.7L361.1 488.4L362.7 488.2L364.3 488.0L365.9 487.8L367.5 487.7L369.1 487.6L370.7 487.6L372.3 487.6L373.8 487.6L375.4 487.7L376.9 487.9L378.5 488.1L380.0 488.4L381.5 488.7L383.0 489.1L384.5 489.5L385.9 490.0L387.4 490.5L388.9 491.1L390.3 491.7L391.7 492.3L393.2 493.0L394.6 493.7L396.0 494.4L397.4 495.2L398.8 496.0L400.2 496.8L401.6 497.6L403.0 498.4L404.4 499.2L405.8 500.1L407.2 500.9L408.6 501.8L410.0 502.6L411.4 503.5L412.8 504.3L414.2 505.1L415.6 505.9L417.0 506.7L418.4 507.5L419.8 508.2L421.3 508.9L422.7 509.6L424.1 510.3L425.6 510.9L427.0 511.6L428.5 512.1L429.9 512.7L431.4 513.3L432.9 513.8L434.3 514.4L435.8 514.9L437.3 515.5L438.7 516.1L440.2 516.6L441.6 517.2L443.1 517.8L444.6 518.4L446.0 519.1L447.5 519.7L448.9 520.3L450.4 520.9L451.9 521.6L453.4 522.2L454.9 522.8L456.5 523.3L458.0 523.9L459.6 524.4L461.2 524.9L462.7 525.3L464.3 525.7L465.9 526.0L467.5 526.3L469.1 526.4L470.7 526.5L472.3 526.5L473.8 526.4L475.4 526.1L476.9 525.8L478.3 525.3L479.8 524.7L481.2 524.0L482.5 523.2L483.8 522.3L485.1 521.4L486.3 520.4L487.5 519.3L488.7 518.2L489.8 517.0L490.9 515.8L492.0 514.6L493.0 513.4L494.1 512.1L495.1 510.8L496.1 509.5L497.1 508.3L498.0 507.0L499.0 505.7L500.0 504.4L500.9 503.1L501.8 501.8L502.7 500.6L503.6 499.2L504.5 497.9L505.4 496.6L506.3 495.3L507.1 494.0L508.0 492.6L508.8 491.3L509.6 489.9L510.4 488.6L511.2 487.2L512.0 485.8L512.8 484.5L513.6 483.1L514.3 481.7L515.1 480.3L515.8 478.9L516.6 477.5L517.3 476.1L518.0 474.7L518.7 473.2L519.4 471.8L520.1 470.4L520.8 468.9L521.4 467.5L522.1 466.0L522.7 464.6L523.4 463.1L524.0 461.7L524.6 460.2L525.2 458.7L525.9 457.3L526.5 455.8L527.1 454.3L527.6 452.8L528.2 451.3L528.8 449.8L529.4 448.4L529.9 446.9L530.5 445.4L531.0 443.9L531.6 442.4L532.1 440.9L532.7 439.3L533.2 437.8L533.7 436.3L534.2 434.8L534.8 433.3L535.3 431.8L535.8 430.3L536.3 428.8L536.8 427.2L537.3 425.7L537.8 424.2L538.3 422.7L538.8 421.2L539.2 419.7L539.7 418.2L540.2 416.7L540.7 415.2L541.3 413.7L541.8 412.3L542.3 410.8L542.8 409.3L543.3 407.8L543.8 406.3L544.4 404.9L544.9 403.4L545.4 401.9L546.0 400.4L546.5 398.9L547.1 397.4L547.6 395.8L548.2 394.3L548.8 392.8L549.4 391.2L550.1 389.7L550.9 388.1L551.7 386.7L552.6 385.2L553.6 383.9L554.6 382.7L555.8 381.7L557.1 380.8L558.4 380.2L559.7 379.8L561.1 379.6L562.5 379.6L563.8 380.0L565.1 380.5L566.3 381.3L567.4 382.3L568.5 383.5L569.6 384.7L570.6 386.1L571.6 387.4L572.6 388.8L573.5 390.2L574.5 391.5L575.4 392.9L576.3 394.3L577.2 395.7L578.1 397.0L578.9 398.4L579.8 399.8L580.6 401.2L581.4 402.5L582.2 403.9L583.0 405.3L583.8 406.6L584.6 408.0L585.4 409.4L586.2 410.7L587.0 412.1L587.8 413.4L588.6 414.8L589.5 416.1L590.3 417.5L591.1 418.8L591.9 420.1L592.8 421.4L593.6 422.8L594.5 424.1L595.4 425.4L596.2 426.7L597.1 428.0L598.0 429.3L599.0 430.6L599.9 431.9L600.8 433.2L601.8 434.4L602.7 435.7L603.7 437.0L604.6 438.3L605.6 439.5L606.5 440.8L607.5 442.1L608.5 443.4L609.5 444.6L610.4 445.9L611.4 447.2L612.4 448.4L613.4 449.7L614.4 451.0L615.4 452.2L616.3 453.5L617.3 454.8L618.3 456.0L619.3 457.3L620.3 458.6L621.2 459.9L622.2 461.2L623.2 462.5L624.1 463.7L625.1 465.0L626.1 466.3L627.1 467.5L628.1 468.7L629.1 469.9L630.2 471.1L631.2 472.3L632.3 473.4L633.4 474.5L634.6 475.6L635.7 476.6L636.9 477.6L638.2 478.6L639.4 479.5L640.7 480.3L642.1 481.2L643.5 482.0L644.8 482.7L646.3 483.4L647.7 484.2L649.1 484.8L650.6 485.5L652.1 486.2L653.5 486.8L655.0 487.5L656.5 488.1L658.0 488.8L659.5 489.4L660.9 490.1L662.4 490.8L663.8 491.4L665.3 492.1L666.7 492.8L668.1 493.6L669.5 494.3L670.9 495.0L672.3 495.7L673.8 496.4L675.2 497.1L676.6 497.9L678.0 498.6L679.4 499.2L680.8 499.9L682.3 500.6L683.7 501.2L685.2 501.9L686.6 502.5L688.1 503.2L689.5 503.8L691.0 504.4L692.5 505.0L693.9 505.6L695.4 506.2L696.9 506.8L698.4 507.4L699.8 508.0L701.3 508.6L702.8 509.1L704.3 509.7L705.8 510.3L707.3 510.9L708.8 511.5L710.3 512.0L711.7 512.6L713.2 513.2L714.7 513.8L716.2 514.4L717.7 515.0L719.1 515.6L720.6 516.2L722.1 516.8L723.6 517.5L725.0 518.1L726.5 518.7L727.9 519.4L729.4 520.0L730.9 520.7L732.3 521.3L733.8 521.9L735.2 522.6L736.7 523.2L738.2 523.8L739.6 524.4L741.1 525.0L742.6 525.5L744.1 526.1L745.6 526.6L747.1 527.1L748.6 527.6L750.1 528.1L751.6 528.6L753.1 529.0L754.6 529.4L756.2 529.9L757.7 530.3L759.2 530.6L760.8 531.0L762.3 531.4L763.9 531.7L765.4 532.1L767.0 532.4L768.5 532.7L770.1 533.1L771.7 533.4L773.2 533.7L774.8 533.9L776.4 534.2L777.9 534.5L779.5 534.8L781.1 535.0L782.7 535.3L784.2 535.5L785.8 535.8L787.4 536.0L789.0 536.3L790.5 536.5L792.1 536.8L793.7 537.0L795.3 537.2L796.9 537.5L798.4 537.7L800.0 537.9L801.6 538.1L803.2 538.4L804.7 538.6L806.3 538.8L807.9 539.0L809.5 539.2L811.1 539.4L812.6 539.6L814.2 539.8L815.8 540.0L817.4 540.2L818.9 540.4L820.5 540.6L822.1 540.8L823.7 541.0L825.3 541.2L826.8 541.3L828.4 541.5L830.0 541.7L831.6 541.8L833.2 542.0L834.7 542.2L836.3 542.3L837.9 542.5L839.5 542.6L841.1 542.7L842.6 542.9L844.2 543.0L845.8 543.1L847.4 543.3L849.0 543.4L850.6 543.5L852.1 543.6L853.7 543.7L855.3 543.8L856.9 543.9L858.5 544.0L860.1 544.1L861.6 544.1L863.2 544.2L864.8 544.3L866.4 544.3L868.0 544.4L869.6 544.4L871.2 544.5L872.8 544.5L874.4 544.6L876.0 544.6L877.5 544.6L879.1 544.6L880.7 544.6L882.3 544.6L883.9 544.6L885.5 544.6L887.1 544.6L888.7 544.6L890.3 544.6L891.9 544.5L893.5 544.5"/>
</g>
<g stroke="#222" stroke-width="2" stroke-dasharray="10.5 11">
<line x1="320.6" y1="375.3" x2="320.6" y2="601"/>
<line x1="479.1" y1="373.3" x2="479.1" y2="599"/>
</g>
<g stroke="#111" stroke-width="2.5" fill="none">
<rect x="62.5" y="5.4" width="832.2" height="619.2"/>
<line x1="62.5" y1="624.6" x2="62.5" y2="637.6"/><line x1="114.5" y1="624.6" x2="114.5" y2="632.1"/><line x1="166.5" y1="624.6" x2="166.5" y2="637.6"/><line x1="218.5" y1="624.6" x2="218.5" y2="632.1"/><line x1="270.6" y1="624.6" x2="270.6" y2="637.6"/><line x1="322.6" y1="624.6" x2="322.6" y2="632.1"/><line x1="374.6" y1="624.6" x2="374.6" y2="637.6"/><line x1="426.6" y1="624.6" x2="426.6" y2="632.1"/><line x1="478.6" y1="624.6" x2="478.6" y2="637.6"/><line x1="530.6" y1="624.6" x2="530.6" y2="632.1"/><line x1="582.6" y1="624.6" x2="582.6" y2="637.6"/><line x1="634.6" y1="624.6" x2="634.6" y2="632.1"/><line x1="686.6" y1="624.6" x2="686.6" y2="637.6"/><line x1="738.7" y1="624.6" x2="738.7" y2="632.1"/><line x1="790.7" y1="624.6" x2="790.7" y2="637.6"/><line x1="842.7" y1="624.6" x2="842.7" y2="632.1"/><line x1="894.7" y1="624.6" x2="894.7" y2="637.6"/>
</g>
<g font-size="35">
<text x="62.5" y="671.5" text-anchor="middle">0</text><text x="166.5" y="671.5" text-anchor="middle">100</text><text x="270.6" y="671.5" text-anchor="middle">200</text><text x="374.6" y="671.5" text-anchor="middle">300</text><text x="478.6" y="671.5" text-anchor="middle">400</text><text x="582.6" y="671.5" text-anchor="middle">500</text><text x="686.6" y="671.5" text-anchor="middle">600</text><text x="790.7" y="671.5" text-anchor="middle">700</text><text x="894.7" y="671.5" text-anchor="middle">800</text>
</g>
<text transform="translate(490.7,711) scale(1.02,1)" font-size="36" text-anchor="middle" style="font-kerning:none">Temperature (°C)</text>
<text transform="translate(35.5,356.7) rotate(-90) scale(1.0,1)" font-size="37.4" text-anchor="middle">Relative intensity (a.u.)</text>
<text transform="translate(180.6,333.1) scale(1.019,1)" font-size="36" text-anchor="middle" style="font-kerning:none">Weak</text>
<text transform="translate(394.1,332.7) scale(1.034,1)" font-size="36" text-anchor="middle">Moderate</text>
<text transform="translate(645.9,164) scale(1.031,1)" font-size="36" text-anchor="middle">Strong</text>
<g stroke-width="3.6">
<line x1="122" y1="59.8" x2="184.5" y2="59.8" stroke="#000"/>
<line x1="122" y1="114.5" x2="184.5" y2="114.5" stroke="#007800"/>
<line x1="122" y1="169.1" x2="184.5" y2="169.1" stroke="#cc0000"/>
<line x1="122" y1="224.4" x2="184.5" y2="224.4" stroke="#0000f0"/>
</g>
<g font-size="34.5">
<text x="192" y="67.9">Al<tspan font-size="21.5" dy="15">2</tspan><tspan dy="-15">O</tspan><tspan font-size="21.5" dy="15">3</tspan></text>
<text x="192" y="123.1">( 9 %)Zr/Al<tspan font-size="21" dy="14">2</tspan><tspan dy="-14">O</tspan><tspan font-size="21" dy="14">3</tspan></text>
<text x="192" y="178.1">(16%)Zr/Al<tspan font-size="21" dy="14">2</tspan><tspan dy="-14">O</tspan><tspan font-size="21" dy="14">3</tspan></text>
<text x="192" y="232.4">(35%)Zr/Al<tspan font-size="21" dy="14">2</tspan><tspan dy="-14">O</tspan><tspan font-size="21" dy="14">3</tspan><tspan font-size="21" dy="10.5">3</tspan></text>
</g>
</svg>
</body></html>
